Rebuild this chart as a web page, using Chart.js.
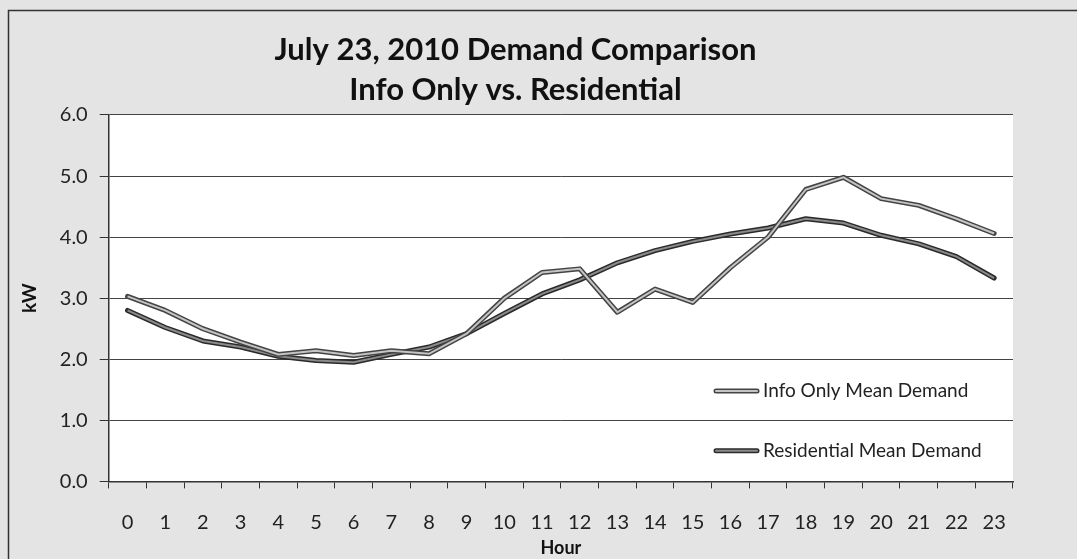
<!DOCTYPE html>
<html>
<head>
<meta charset="utf-8">
<script src="https://cdn.jsdelivr.net/npm/chart.js@4.4.1/dist/chart.umd.min.js"></script>
<style>
  html, body { margin: 0; padding: 0; background: #e4e4e4; }
  #wrap { width: 1077px; height: 559px; position: relative; }
</style>
</head>
<body>
<div id="wrap"><canvas id="demandChart"></canvas></div>
<script>
var hours = ['0','1','2','3','4','5','6','7','8','9','10','11','12','13','14','15','16','17','18','19','20','21','22','23'];
var infoOnly = [3.03, 2.80, 2.50, 2.28, 2.08, 2.14, 2.06, 2.14, 2.09, 2.42, 3.00, 3.42, 3.48, 2.77, 3.15, 2.93, 3.50, 4.00, 4.78, 4.98, 4.63, 4.52, 4.30, 4.06];
var residential = [2.80, 2.52, 2.30, 2.20, 2.05, 1.98, 1.95, 2.08, 2.20, 2.42, 2.75, 3.07, 3.30, 3.58, 3.78, 3.93, 4.05, 4.15, 4.30, 4.23, 4.03, 3.89, 3.68, 3.33];
var titleLines = ['July 23, 2010 Demand Comparison', 'Info Only vs. Residential'];

// paper look: grey background, frame, white plot area
var paper = {
  id: 'paper',
  beforeDraw: function (chart) {
    var c = chart.ctx, a = chart.chartArea;
    c.save();
    c.fillStyle = '#e4e4e4';
    c.fillRect(0, 0, chart.width, chart.height);
    c.strokeStyle = '#333';
    c.lineWidth = 1.5;
    c.strokeRect(8.5, 10.5, chart.width + 20, chart.height + 20);
    c.fillStyle = '#ffffff';
    c.fillRect(a.left, a.top, a.right - a.left, a.bottom - a.top);
    c.restore();
  }
};

// dark outline under each line, so it reads as a double stroke
var outline = {
  id: 'outline',
  beforeDatasetDraw: function (chart, args) {
    var meta = args.meta, c = chart.ctx;
    var ds = chart.data.datasets[args.index];
    c.save();
    c.beginPath();
    meta.data.forEach(function (p, i) {
      if (i === 0) c.moveTo(p.x, p.y); else c.lineTo(p.x, p.y);
    });
    c.strokeStyle = ds.outlineColor;
    c.lineWidth = 5;
    c.lineJoin = 'round';
    c.lineCap = 'round';
    c.stroke();
    c.restore();
  }
};

// legend sits inside the plot, lower right
var innerLegend = {
  id: 'innerLegend',
  afterDraw: function (chart) {
    var c = chart.ctx, y = chart.scales.y;
    var rows = [y.getPixelForValue(1.48), y.getPixelForValue(0.5)];
    c.save();
    chart.data.datasets.forEach(function (ds, i) {
      var x0 = 716, x1 = 757, yy = rows[i];
      c.beginPath();
      c.moveTo(x0, yy); c.lineTo(x1, yy);
      c.strokeStyle = ds.outlineColor; c.lineWidth = 5; c.lineCap = 'round';
      c.stroke();
      c.beginPath();
      c.moveTo(x0, yy); c.lineTo(x1, yy);
      c.strokeStyle = ds.borderColor; c.lineWidth = 2;
      c.stroke();
      c.fillStyle = '#222';
      c.font = '19px Lato';
      c.textBaseline = 'middle';
      c.fillText(ds.label, 763, yy);
    });
    c.restore();
  }
};

var ctx = document.getElementById('demandChart').getContext('2d');
var myChart = new Chart(ctx, {
  type: 'line',
  data: {
    labels: hours,
    datasets: [{
      label: 'Info Only Mean Demand',
      data: infoOnly,
      borderColor: '#c4c4c4',
      outlineColor: '#444',
      borderWidth: 2,
      pointRadius: 0,
      tension: 0
    }, {
      label: 'Residential Mean Demand',
      data: residential,
      borderColor: '#8a8a8a',
      outlineColor: '#2a2a2a',
      borderWidth: 2,
      pointRadius: 0,
      tension: 0
    }]
  },
  options: {
    responsive: true,
    maintainAspectRatio: false,
    animation: false,
    layout: { padding: { left: 18, right: 64, top: 0, bottom: 0 } },
    plugins: {
      legend: { display: false },
      tooltip: { enabled: false },
      title: {
        display: true,
        text: titleLines,
        color: '#111',
        font: { family: 'Lato', size: 31, weight: 'bold', lineHeight: 1.29 },
        padding: { top: 30, bottom: 5 }
      }
    },
    scales: {
      x: {
        offset: true,
        grid: { offset: true, drawOnChartArea: false, tickLength: 7, color: '#333', tickColor: '#333' },
        border: { color: '#333', width: 1.5 },
        ticks: { color: '#222', padding: 22, font: { family: 'Lato', size: 20 }, maxRotation: 0, autoSkip: false },
        title: { display: true, text: 'Hour', color: '#111', font: { family: 'Lato', size: 18, weight: 'bold' }, padding: { top: -19, bottom: 0 } }
      },
      y: {
        min: 0,
        max: 6,
        ticks: {
          stepSize: 1,
          color: '#222',
          padding: 12,
          font: { family: 'Lato', size: 20 },
          callback: function (v) { return Number(v).toFixed(1); }
        },
        grid: { color: '#444', lineWidth: 1, tickLength: 9, tickColor: '#333' },
        border: { color: '#333', width: 1.5 },
        title: { display: true, text: 'kW', color: '#111', font: { family: 'Lato', size: 19, weight: 'bold' }, padding: { top: 0, bottom: 7 } }
      }
    }
  },
  plugins: [paper, outline, innerLegend]
});
</script>
</body>
</html>
